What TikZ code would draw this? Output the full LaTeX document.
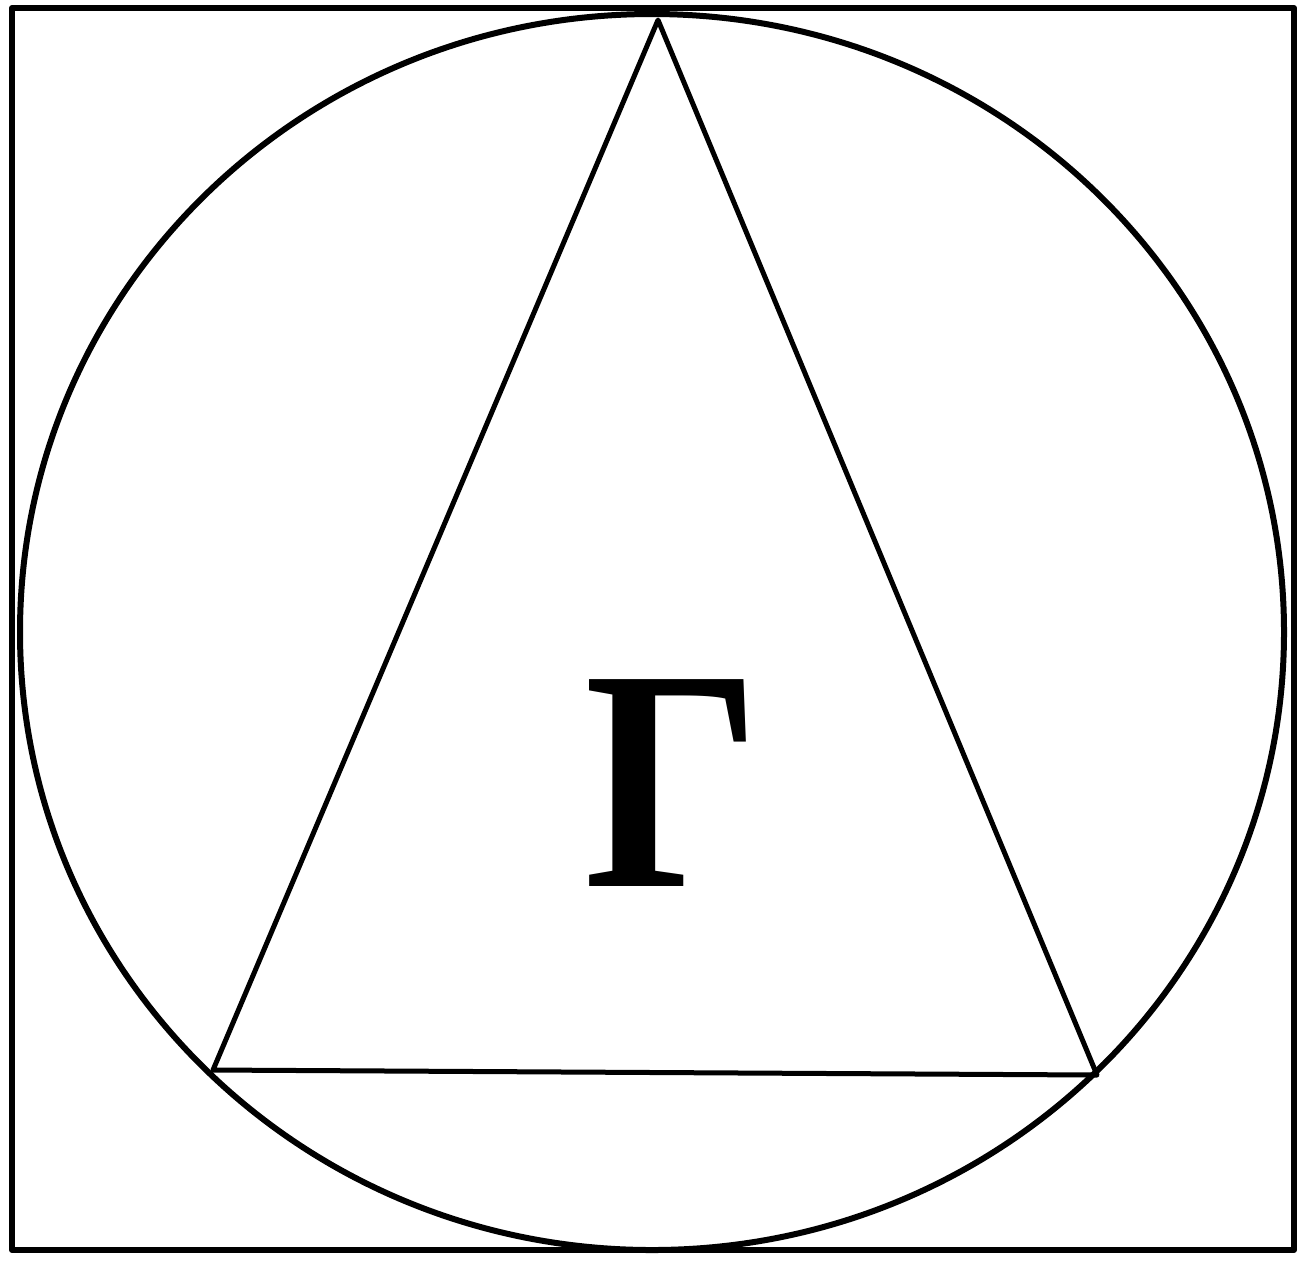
\documentclass[tikz,border=0pt]{standalone}
\usepackage{fontspec}
\setmainfont{Liberation Serif}
\begin{document}
\begin{tikzpicture}[x=0.5pt,y=-0.5pt,
  frame/.style={line width=3pt,line join=round},
  thin/.style={line width=2.5pt,line join=round}]
\useasboundingbox (0,0) rectangle (1304,1266);
\draw[frame] (12,8) rectangle (1294,1250);
\draw[frame] (652,632) ellipse [x radius=632, y radius=618];
\coordinate (A) at (658,20);
\coordinate (B) at (213,1070);
\coordinate (C) at (1097,1075);
\draw[thin] (A) -- (B) -- (C) -- cycle;
\node[inner sep=0pt, anchor=base, xscale=0.88] (G) at (673,886) {\fontsize{158}{160}\selectfont\bfseries Γ};
\end{tikzpicture}
\end{document}
